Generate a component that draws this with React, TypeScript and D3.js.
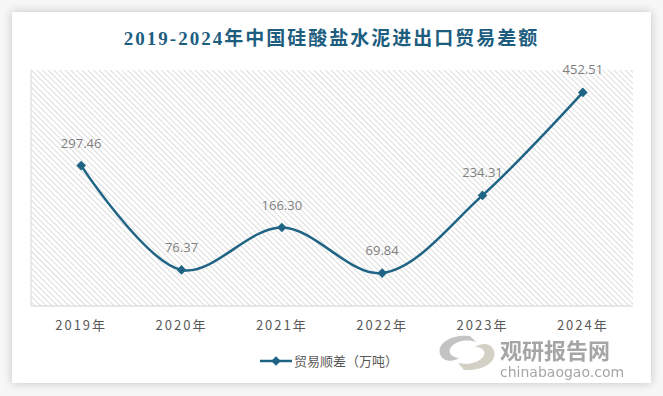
import React from "react";
import * as d3 from "d3";

const years = ["2019年", "2020年", "2021年", "2022年", "2023年", "2024年"];
const surplus = [297.46, 76.37, 166.3, 69.84, 234.31, 452.51];
const seriesName = "贸易顺差（万吨）";
const title = "2019-2024年中国硅酸盐水泥进出口贸易差额";

const W = 663;
const H = 396;
const plot = { left: 31, right: 633, top: 70, bottom: 306 };
const lineColor = "#1f6485";

export default function App() {
  const x = d3
    .scaleBand<string>()
    .domain(years)
    .range([plot.left, plot.right]);
  const y = d3.scaleLinear().domain([0, 500]).range([plot.bottom, plot.top]);

  const pts = years.map((yr, i) => ({
    yr,
    v: surplus[i],
    cx: (x(yr) ?? 0) + x.bandwidth() / 2,
    cy: y(surplus[i]),
  }));

  const line = d3
    .line<{ cx: number; cy: number }>()
    .x((d) => d.cx)
    .y((d) => d.cy)
    .curve(d3.curveCatmullRom.alpha(0.5));

  const diamond = d3.symbol().type(d3.symbolDiamond2).size(60);

  return (
    <svg
      width={W}
      height={H}
      style={{ position: "absolute", left: 0, top: 0, background: "#fff" }}
    >
      <defs>
        <filter id="shadow" x="-10%" y="-10%" width="120%" height="120%">
          <feDropShadow dx="0" dy="0" stdDeviation="5" floodColor="#000" floodOpacity="0.22" />
        </filter>
        <pattern
          id="hatch"
          patternUnits="userSpaceOnUse"
          width="4"
          height="4"
          patternTransform="rotate(-45)"
        >
          <line x1="0" y1="0" x2="0" y2="4" stroke="#cfcfcf" strokeWidth="1.4" />
        </pattern>
      </defs>

      <rect x={0} y={0} width={W} height={H} fill="#f7f7f7" />
      <rect x={12} y={12} width={639} height={371} fill="#fff" filter="url(#shadow)" />

      <text
        x={W / 2}
        y={45}
        textAnchor="middle"
        fontFamily="'Liberation Serif', 'Noto Sans CJK SC', serif"
        fontWeight="bold"
        fontSize={19}
        letterSpacing={2}
        fill="#1d5e7f"
      >
        {title}
      </text>

      <rect
        x={plot.left}
        y={plot.top}
        width={plot.right - plot.left}
        height={plot.bottom - plot.top}
        fill="url(#hatch)"
      />
      <line x1={plot.left} x2={plot.left} y1={plot.top} y2={plot.bottom} stroke="#d9d9d9" />
      <line x1={plot.left} x2={plot.right} y1={plot.bottom} y2={plot.bottom} stroke="#d0d0d0" />

      {years.map((yr) => (
        <text
          key={yr}
          x={(x(yr) ?? 0) + x.bandwidth() / 2}
          y={330}
          textAnchor="middle"
          fontFamily="'Noto Sans CJK SC', sans-serif"
          fontSize={13}
          letterSpacing={2}
          fill="#595959"
        >
          {yr}
        </text>
      ))}

      <path d={line(pts) ?? ""} fill="none" stroke={lineColor} strokeWidth={2.5} />
      {pts.map((p) => (
        <g key={p.yr}>
          <path d={diamond() ?? ""} transform={`translate(${p.cx},${p.cy})`} fill={lineColor} />
          <text
            x={p.cx}
            y={p.cy - 18}
            textAnchor="middle"
            fontFamily="'Open Sans', 'Noto Sans', sans-serif"
            fontSize={13}
            fill="#7f7f7f"
          >
            {p.v.toFixed(2)}
          </text>
        </g>
      ))}

      {/* legend */}
      <line x1={260} x2={292} y1={361} y2={361} stroke={lineColor} strokeWidth={2.5} />
      <path d={diamond() ?? ""} transform="translate(276,361)" fill={lineColor} />
      <text
        x={294}
        y={366}
        fontFamily="'Noto Sans CJK SC', sans-serif"
        fontSize={13}
        fill="#595959"
      >
        {seriesName}
      </text>

      {/* watermark */}
      <g opacity={0.8}>
        <path
          d="M 470 336 C 450 334, 437 344, 440 354 C 442 361, 452 363, 459 358 C 450 357, 447 351, 452 346 C 457 341, 467 339, 476 342 Z"
          fill="#b5b5b5"
        />
        <path
          d="M 464 370 C 485 371, 497 361, 494 351 C 492 343, 482 342, 475 347 C 484 347, 487 353, 482 358 C 477 363, 467 365, 458 363 Z"
          fill="#c9c6b8"
        />
        <text
          x={500}
          y={359}
          fontFamily="'Noto Sans CJK SC', sans-serif"
          fontWeight="bold"
          fontSize={22}
          fill="#8f8f8f"
        >
          观研报告网
        </text>
        <text
          x={500}
          y={377}
          fontFamily="'DejaVu Sans', sans-serif"
          fontSize={14}
          fill="#8f8f8f"
        >
          chinabaogao.com
        </text>
      </g>
    </svg>
  );
}
